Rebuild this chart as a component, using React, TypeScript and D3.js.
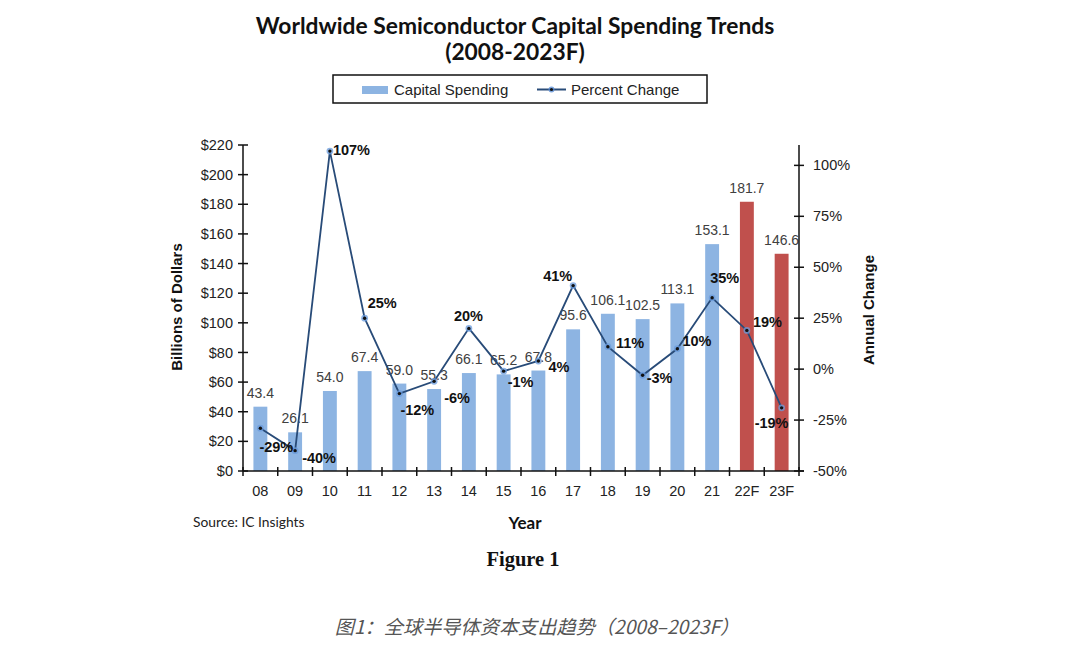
import React from 'react';
import * as d3 from 'd3';

const categories = ['08', '09', '10', '11', '12', '13', '14', '15', '16', '17', '18', '19', '20', '21', '22F', '23F'];
const spending = [43.4, 26.1, 54.0, 67.4, 59.0, 55.3, 66.1, 65.2, 67.8, 95.6, 106.1, 102.5, 113.1, 153.1, 181.7, 146.6];
const pctChange = [-29, -40, 107, 25, -12, -6, 20, -1, 4, 41, 11, -3, 10, 35, 19, -19];
const forecastCats = ['22F', '23F'];
const leftTicks = [0, 20, 40, 60, 80, 100, 120, 140, 160, 180, 200, 220];
const rightTicks = [-50, -25, 0, 25, 50, 75, 100];

// label placement offsets (layout only): [dx, dy] from the point, text-anchor start
const pctLabelOffsets: [number, number][] = [
  [-1, 19], [7, 7], [3, -1], [3, -15], [1, 16], [10, 17], [-15, -12], [4, 11],
  [10, 6], [-30, -10], [8, -4], [4, 3], [5, -8], [-2, -20], [6, -8], [-27, 15],
];

const W = 1080;
const H = 648;
const L = 243;
const R = 799;
const T = 145;
const B = 471;

const BLUE = '#8db4e2';
const RED = '#c0504d';
const LINE = '#284b78';
const ARIAL = '"Liberation Sans", Arial, sans-serif';
const CAL = 'Lato, "Open Sans", sans-serif';

export default function App() {
  const x = d3.scaleBand<string>().domain(categories).range([L, R]).paddingInner(0.6).paddingOuter(0.3);
  const yL = d3.scaleLinear().domain([0, 220]).range([B, T]);
  const yR = d3.scaleLinear().domain([-50, 110]).range([B, T]);
  const bw = x.bandwidth();
  const cx = (c: string) => (x(c) as number) + bw / 2;
  const step = x.step();

  const line = d3
    .line<number>()
    .x((_, i) => cx(categories[i]))
    .y((d) => yR(d));

  const boundaries = d3.range(categories.length + 1).map((i) => L + i * step);

  return (
    <svg width={W} height={H} style={{ position: 'absolute', left: 0, top: 0, background: '#fff' }}>
      <rect x={0} y={0} width={W} height={H} fill="#fff" />
      {/* Title */}
      <text x={515} y={34} textAnchor="middle" fontFamily={CAL} fontWeight="bold" fontSize={22.8} fill="#111">
        Worldwide Semiconductor Capital Spending Trends
      </text>
      <text x={515} y={60} textAnchor="middle" fontFamily={CAL} fontWeight="bold" fontSize={22.8} fill="#111">
        (2008-2023F)
      </text>

      {/* Legend */}
      <rect x={333} y={75} width={374} height={28} fill="#fff" stroke="#111" strokeWidth={1.5} />
      <rect x={362} y={86} width={26} height={8} fill={BLUE} />
      <text x={394} y={95} fontFamily={ARIAL} fontSize={15} fill="#222">Capital Spending</text>
      <line x1={537} x2={566} y1={89.5} y2={89.5} stroke={LINE} strokeWidth={2} />
      <circle cx={551.5} cy={89.5} r={3} fill="#5b8fd6" opacity={0.8} />
      <circle cx={551.5} cy={89.5} r={1.6} fill="#111" />
      <text x={571} y={95} fontFamily={ARIAL} fontSize={15} fill="#222">Percent Change</text>

      {/* Bars */}
      {categories.map((c, i) => (
        <rect
          key={c}
          x={x(c)}
          y={yL(spending[i])}
          width={bw}
          height={B - yL(spending[i])}
          fill={forecastCats.includes(c) ? RED : BLUE}
        />
      ))}

      {/* Bar labels */}
      {categories.map((c, i) => (
        <text
          key={'bl' + c}
          x={cx(c)}
          y={yL(spending[i]) - 9}
          textAnchor="middle"
          fontFamily={ARIAL}
          fontSize={14}
          fill="#404040"
        >
          {spending[i].toFixed(1)}
        </text>
      ))}

      {/* Line */}
      <path d={line(pctChange) || ''} fill="none" stroke={LINE} strokeWidth={1.8} />
      {categories.map((c, i) => (
        <g key={'m' + c}>
          <circle cx={cx(c)} cy={yR(pctChange[i])} r={3.4} fill="#6a9bdc" opacity={0.75} />
          <circle cx={cx(c)} cy={yR(pctChange[i])} r={1.7} fill="#111" />
        </g>
      ))}
      {categories.map((c, i) => (
        <text
          key={'pl' + c}
          x={cx(c) + pctLabelOffsets[i][0]}
          y={yR(pctChange[i]) + pctLabelOffsets[i][1]}
          dy="0.35em"
          fontFamily={ARIAL}
          fontWeight="bold"
          fontSize={14.5}
          fill="#111"
        >
          {pctChange[i] + '%'}
        </text>
      ))}

      {/* Left axis */}
      <line x1={L} x2={L} y1={T} y2={B} stroke="#111" strokeWidth={1.5} />
      {leftTicks.map((t) => (
        <g key={'lt' + t}>
          <line x1={L - 5} x2={L + 5} y1={yL(t)} y2={yL(t)} stroke="#111" strokeWidth={1.5} />
          <text x={L - 10} y={yL(t)} dy="0.35em" textAnchor="end" fontFamily={ARIAL} fontSize={14.5} fill="#222">
            {'$' + t}
          </text>
        </g>
      ))}

      {/* Right axis */}
      <line x1={R} x2={R} y1={T} y2={B} stroke="#111" strokeWidth={1.5} />
      {rightTicks.map((t) => (
        <g key={'rt' + t}>
          <line x1={R - 5} x2={R + 5} y1={yR(t)} y2={yR(t)} stroke="#111" strokeWidth={1.5} />
          <text x={R + 14} y={yR(t)} dy="0.35em" textAnchor="start" fontFamily={ARIAL} fontSize={14.5} fill="#222">
            {t + '%'}
          </text>
        </g>
      ))}

      {/* Bottom axis */}
      <line x1={L} x2={R + 5} y1={B} y2={B} stroke="#111" strokeWidth={1.5} />
      {boundaries.map((bx, i) => (
        <line key={'bt' + i} x1={bx} x2={bx} y1={B - 4} y2={B + 5} stroke="#111" strokeWidth={1.5} />
      ))}
      {categories.map((c) => (
        <text key={'xl' + c} x={cx(c)} y={496} textAnchor="middle" fontFamily={ARIAL} fontSize={14.5} fill="#222">
          {c}
        </text>
      ))}

      {/* Axis titles */}
      <text
        transform={`translate(182,307) rotate(-90)`}
        textAnchor="middle"
        fontFamily={ARIAL}
        fontWeight="bold"
        fontSize={15}
        fill="#111"
      >
        Billions of Dollars
      </text>
      <text
        transform={`translate(874,310) rotate(-90)`}
        textAnchor="middle"
        fontFamily={ARIAL}
        fontWeight="bold"
        fontSize={15}
        fill="#111"
      >
        Annual Change
      </text>
      <text x={525} y={529} textAnchor="middle" fontFamily={CAL} fontWeight="bold" fontSize={17} fill="#111">
        Year
      </text>
      <text x={193} y={527} fontFamily={CAL} fontSize={13.8} fill="#222">
        Source: IC Insights
      </text>

      {/* Figure caption */}
      <text x={523} y={566} textAnchor="middle" fontFamily='"Liberation Serif", "DejaVu Serif", serif' fontWeight="bold" fontSize={20.5} fill="#111">
        Figure 1
      </text>
      <text
        x={537}
        y={634}
        textAnchor="middle"
        fontFamily='"Noto Sans CJK SC", sans-serif'
        fontStyle="italic"
        fontSize={19.2}
        fill="#555"
      >
        图1：全球半导体资本支出趋势（2008–2023F）
      </text>
    </svg>
  );
}
